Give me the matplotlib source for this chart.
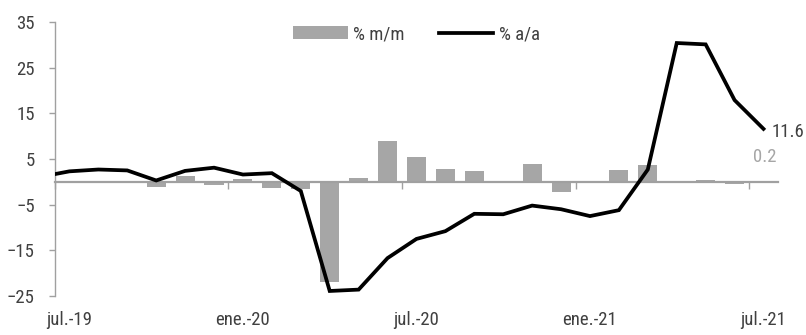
import matplotlib
matplotlib.use("Agg")
import matplotlib.pyplot as plt
import numpy as np

# Monthly series, jul.-19 .. jul.-21
months = ["jul.-19", "ago.-19", "sep.-19", "oct.-19", "nov.-19", "dic.-19",
          "ene.-20", "feb.-20", "mar.-20", "abr.-20", "may.-20", "jun.-20",
          "jul.-20", "ago.-20", "sep.-20", "oct.-20", "nov.-20", "dic.-20",
          "ene.-21", "feb.-21", "mar.-21", "abr.-21", "may.-21", "jun.-21",
          "jul.-21"]
mm = [-0.1, 0.1, 0.0, -1.1, 1.2, -0.6, 0.6, -1.4, -1.5, -21.9, 0.8, 8.9,
      5.5, 2.8, 2.3, -0.2, 3.9, -2.3, -0.1, 2.7, 3.6, -0.3, 0.4, -0.5, 0.2]
# year-on-year series starts one month earlier (jun.-19) and is clipped at the axis
aa_prev = 1.1
aa = [2.3, 2.7, 2.5, 0.3, 2.4, 3.1, 1.6, 1.9, -2.0, -23.9, -23.6, -16.7,
      -12.5, -10.8, -7.0, -7.1, -5.2, -6.0, -7.5, -6.2, 2.7, 30.4, 30.1, 17.9,
      11.6]
label_months = ["jul.-19", "ene.-20", "jul.-20", "ene.-21", "jul.-21"]

plt.rcParams["font.family"] = ["Liberation Sans Narrow", "Roboto Condensed", "Liberation Sans", "DejaVu Sans"]
txt = "#404040"
grid_gray = "#a0a0a0"
bar_gray = "#a6a6a6"
fs = 13.5

fig = plt.figure(figsize=(8.06, 3.35), dpi=100)
ax = fig.add_axes([0.0682, 0.1164, 0.897, 0.8179])

x = np.arange(len(months))
bars = ax.bar(x, mm, width=0.66, color=bar_gray, label="% m/m", zorder=2)
x_line = np.concatenate([[-1], x])
line, = ax.plot(x_line, [aa_prev] + aa, color="black", lw=2.7, label="% a/a",
                zorder=3, solid_joinstyle="miter")

ax.set_xlim(-0.5, len(months) - 0.5)
ax.set_ylim(-25, 35)
ax.set_yticks(np.arange(-25, 36, 10))

for s in ["top", "right"]:
    ax.spines[s].set_visible(False)
ax.spines["left"].set_color(grid_gray)
ax.spines["left"].set_linewidth(1.0)
ax.spines["bottom"].set_position(("data", 0))
ax.spines["bottom"].set_color(grid_gray)
ax.spines["bottom"].set_linewidth(1.6)
ax.spines["bottom"].set_zorder(2.5)

# half-year tick marks sit between categories on the zero line
ax.set_xticks(np.arange(-0.5, len(months), 6))
ax.set_xticklabels([])
ax.tick_params(axis="x", direction="out", length=5, width=1, color=grid_gray)
ax.tick_params(axis="y", direction="out", length=4.5, width=1, color=grid_gray,
               labelsize=fs, labelcolor=txt, pad=10)

# month labels along the bottom of the plot
sec = ax.secondary_xaxis(0)
sec.set_xticks([months.index(m) for m in label_months])
sec.set_xticklabels(label_months)
sec.tick_params(length=0, labelsize=fs, labelcolor=txt, pad=11)
sec.spines["bottom"].set_visible(False)

# end-of-series value labels
ax.annotate(f"{aa[-1]:.1f}", xy=(x[-1], aa[-1]), xytext=(6, -2),
            textcoords="offset points", ha="left", va="center",
            fontsize=fs, color=txt)
ax.annotate(f"{mm[-1]:.1f}", xy=(x[-1], mm[-1]), xytext=(1, 17),
            textcoords="offset points", ha="center", va="center",
            fontsize=fs, color=bar_gray)

leg = ax.legend([bars, line], ["% m/m", "% a/a"], loc="upper center",
                bbox_to_anchor=(0.50, 1.05), ncol=2, frameon=False,
                fontsize=fs, handlelength=2.9, handletextpad=0.3,
                columnspacing=1.8, labelcolor=txt)

fig.savefig("out.png", dpi=100)
